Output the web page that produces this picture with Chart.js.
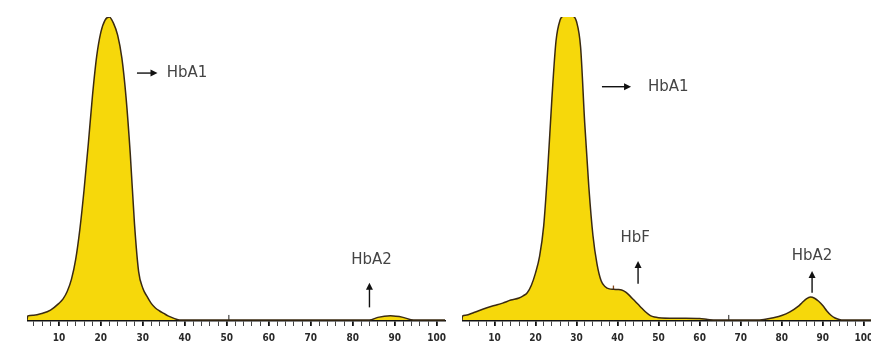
<!DOCTYPE html>
<html>
<head>
<meta charset="utf-8">
<script src="https://cdn.jsdelivr.net/npm/chart.js@4.4.1/dist/chart.umd.min.js"></script>
<style>
  html,body{margin:0;padding:0;background:#fff;}
  body{width:871px;height:353px;overflow:hidden;position:relative;}
  .box{position:absolute;top:0;height:350px;}
</style>
</head>
<body>
<div class="box" style="left:27px;width:428px"><canvas id="leftChart"></canvas></div>
<div class="box" style="left:462px;width:420px"><canvas id="rightChart"></canvas></div>
<script>
// retention time (x) and absorbance in % of HbA1 peak (y)
const leftTime=[2.4,2.6,4,6,8,10,11,12,13,14,15,16,17,18,19,20,21,22,23,24,25,26,27,28,29,30,31,32,33,34,35,36,37,38,39,84,86,89,92,94.5,102];
const leftSignal=[0,1.4,1.6,2.2,3.3,5.5,7,9.5,13.5,20,30,43,58,74,87,95,99,100,98,94,86.5,73.5,55,32,16,10.5,7.8,5.5,4,3,2.2,1.4,0.8,0.3,0,0,0.9,1.4,0.9,0,0];

const rightTime=[2.1,2.2,3,5,8,10,12,14,16,17,18,19,20,21,22,23,24,25,26,27,28,29,30,31,32,33,34,35,36,37,38,39,40,41,42,43,44,45,46,47,48,49,50,55,60,62,64,74,76,78,80,82,84,85,86,87,88,89,90,91,92,93,94,95,102];
const rightSignal=[0,1.3,1.6,2.5,4,4.8,5.6,6.6,7.3,8,9,11.5,15.5,21,31,50,73,92,99,100.5,101,100.5,98.5,90,65,44,28,18.5,13,11,10.3,10.2,10.1,9.9,9.2,8,6.6,5.2,3.8,2.5,1.5,1,0.8,0.6,0.5,0.2,0,0,0.3,0.8,1.5,2.7,4.5,5.8,7,7.6,7.2,6.2,4.8,3,1.6,0.7,0.2,0,0];

const tickLabels=[10,20,30,40,50,60,70,80,90,100];
const minorStep=2;

const leftNotes=[{text:"HbA1",x:35.7,y:81.5,align:"left"},{text:"HbA2",x:84.5,y:19.8,align:"center"}];
const leftArrows=[{x1:28.6,y1:81.5,x2:33.5,y2:81.5},{x1:84,y1:4.2,x2:84,y2:12.3}];
const rightNotes=[{text:"HbA1",x:47.4,y:77,align:"left"},{text:"HbF",x:44.3,y:27,align:"center"},{text:"HbA2",x:87.4,y:21,align:"center"}];
const rightArrows=[{x1:36.2,y1:77,x2:43.3,y2:77},{x1:45,y1:12,x2:45,y2:19.5},{x1:87.4,y1:9,x2:87.4,y2:16.2}];

const toPoints=(xs,ys)=>xs.map((x,i)=>({x:x,y:ys[i]}));

const noteText={
  id:"noteText",
  afterDatasetsDraw(chart,args,opts){
    const ctx=chart.ctx,xs=chart.scales.x,ys=chart.scales.y;
    ctx.save();
    ctx.strokeStyle="#111";
    ctx.fillStyle="#111";
    ctx.lineWidth=1.4;
    (opts.arrows||[]).forEach(a=>{
      const x1=xs.getPixelForValue(a.x1),y1=ys.getPixelForValue(a.y1);
      const x2=xs.getPixelForValue(a.x2),y2=ys.getPixelForValue(a.y2);
      const ang=Math.atan2(y2-y1,x2-x1);
      ctx.beginPath();
      ctx.moveTo(x1,y1);
      ctx.lineTo(x2-Math.cos(ang)*4,y2-Math.sin(ang)*4);
      ctx.stroke();
      ctx.beginPath();
      ctx.moveTo(x2,y2);
      ctx.lineTo(x2-Math.cos(ang)*7+Math.sin(ang)*3.5,y2-Math.sin(ang)*7-Math.cos(ang)*3.5);
      ctx.lineTo(x2-Math.cos(ang)*7-Math.sin(ang)*3.5,y2-Math.sin(ang)*7+Math.cos(ang)*3.5);
      ctx.closePath();
      ctx.fill();
    });
    ctx.fillStyle="#444";
    ctx.font="15px 'DejaVu Sans'";
    ctx.textBaseline="middle";
    (opts.notes||[]).forEach(n=>{
      ctx.textAlign=n.align;
      ctx.fillText(n.text,xs.getPixelForValue(n.x),ys.getPixelForValue(n.y));
    });
    ctx.restore();
  }
};

const isMajor=(ctx)=>ctx.tick&&tickLabels.includes(ctx.tick.value);

const makeChart=(id,xs,ys,xMin,extra,notes,arrows)=>{
  const sets=[{
    data:toPoints(xs,ys),
    borderColor:"#3a2a12",
    borderWidth:1.5,
    backgroundColor:"#f6d80b",
    fill:"origin",
    pointRadius:0,
    cubicInterpolationMode:"monotone"
  }].concat(extra);
  return new Chart(document.getElementById(id),{
    type:"line",
    data:{datasets:sets},
    options:{
      responsive:true,
      maintainAspectRatio:false,
      animation:false,
      layout:{padding:{top:17,right:10,left:0,bottom:0}},
      plugins:{legend:{display:false},tooltip:{enabled:false},noteText:{notes:notes,arrows:arrows}},
      scales:{
        x:{
          type:"linear",min:xMin,max:102,
          afterBuildTicks:(scale)=>{
            const t=[];
            for(let v=4;v<=100;v+=minorStep)t.push({value:v});
            scale.ticks=t;
          },
          grid:{
            drawOnChartArea:false,drawTicks:true,tickLength:5,
            color:(c)=>isMajor(c)?"#111":"#444",
            lineWidth:(c)=>isMajor(c)?1.8:1
          },
          border:{display:true,color:"#111",width:1.5},
          ticks:{
            autoSkip:false,maxRotation:0,padding:6,color:"#2a2a2a",
            font:{family:"DejaVu Sans Condensed",size:10,weight:"bold"},
            callback:(v)=>tickLabels.includes(v)?String(v):""
          }
        },
        y:{display:false,min:-0.3,max:100}
      }
    },
    plugins:[noteText]
  });
};

const leftMark=[{data:toPoints([50.5,50.5],[0,1.7]),borderColor:"#222",borderWidth:1,pointRadius:0,fill:false}];
const rightMark=[
  {data:toPoints([39,39],[0,11.4]),borderColor:"#8a4a1e",borderWidth:1.3,pointRadius:0,fill:false},
  {data:toPoints([67.1,67.1],[0,1.7]),borderColor:"#222",borderWidth:1,pointRadius:0,fill:false}
];

makeChart("leftChart",leftTime,leftSignal,2.4,leftMark,leftNotes,leftArrows);
makeChart("rightChart",rightTime,rightSignal,2.1,rightMark,rightNotes,rightArrows);
</script>
</body>
</html>
